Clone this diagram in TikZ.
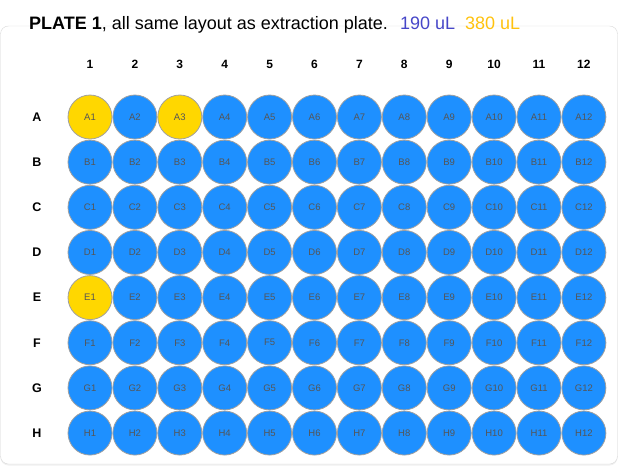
\documentclass[tikz,border=0pt]{standalone}
\usepackage{fontspec}
\setmainfont{Liberation Sans}
\usetikzlibrary{shadows}

\definecolor{wellblue}{HTML}{1E90FF}
\definecolor{wellgold}{HTML}{FFD700}
\definecolor{wellrim}{HTML}{A0A0A0}
\definecolor{welltext}{HTML}{555555}
\definecolor{lowvol}{HTML}{4646C8}
\definecolor{highvol}{HTML}{FFC20E}

% wells that take the larger volume
\tikzset{
    well A1/.style={fill=wellgold},
    well A3/.style={fill=wellgold},
    well E1/.style={fill=wellgold},
}

\begin{document}
\begin{tikzpicture}[
    x=1pt, y=-1pt,
    panel/.style={draw=black!15, rounded corners=8pt, fill=white, minimum width=617pt, minimum height=438pt,
        drop shadow={opacity=0.12, shadow xshift=0pt, shadow yshift=-1.5pt}},
    well/.style={circle, draw=wellrim, line width=0.8pt, fill=wellblue, minimum size=44pt, inner sep=0pt,
        text=welltext, font=\fontsize{9.5}{10}\selectfont},
    collab/.style={font=\bfseries\fontsize{12}{13}\selectfont},
    rowlab/.style={font=\bfseries\fontsize{12.5}{13}\selectfont},
]
\useasboundingbox (0,0) rectangle (625,475);

\node[panel] (plate) at (309,245) {};

\node[anchor=base west, inner sep=0pt, font=\fontsize{18}{20}\selectfont] (title) at (29,29)
    {\textbf{PLATE 1}, all same layout as extraction plate.\hspace{12pt}\textcolor{lowvol}{190 uL}\hspace{10pt}\textcolor{highvol}{380 uL}};

\foreach \c in {1,...,12}
    \node[collab] (col\c) at ({90+44.9*(\c-1)},64) {\c};

\foreach \r [count=\i] in {A,B,C,D,E,F,G,H} {
    \node[rowlab] (row\r) at (37,{117+45.15*(\i-1)}) {\r};
    \foreach \c in {1,...,12}
        \node[well, well \r\c/.try] (\r\c) at ({90+44.9*(\c-1)},{117+45.15*(\i-1)}) {\r\c};
}
\end{tikzpicture}
\end{document}
